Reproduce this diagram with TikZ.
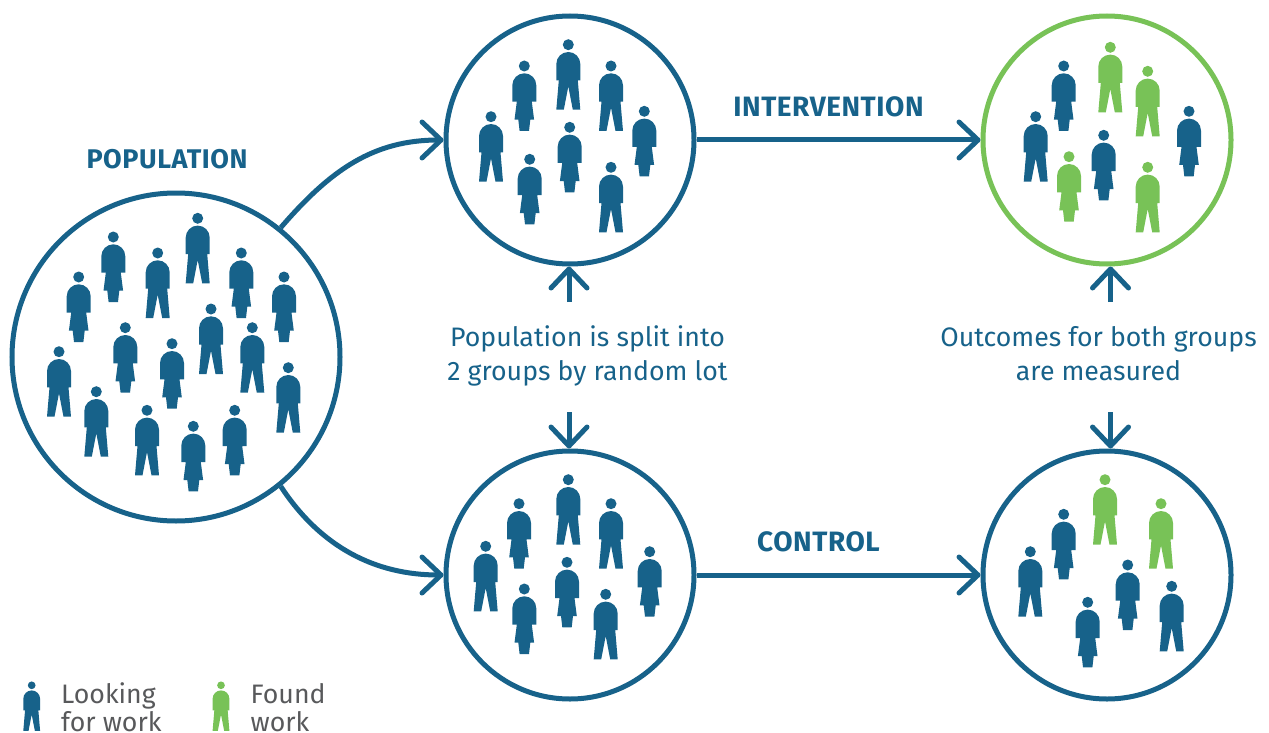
\documentclass[tikz,border=0pt]{standalone}
\usepackage{fontspec}
\usetikzlibrary{arrows.meta}
\setmainfont{Fira Sans}
\newfontfamily\armfont[LetterSpace=2]{Fira Sans}
\definecolor{lookblue}{HTML}{17628A}
\definecolor{foundgreen}{HTML}{78C257}
\definecolor{legendgrey}{HTML}{58595B}
\tikzset{
  man/.pic={\fill (0,0) circle (5.5);
    \fill (-12,19.3) arc (180:360:12) -- (12,35.7) -- (9.5,35.7) -- (12,65) -- (4.5,65) -- (0,41.7) -- (-4.5,65) -- (-12,65) -- (-9.5,35.7) -- (-12,35.7) -- cycle;},
  woman/.pic={\fill (0,0) circle (5.5);
    \fill (-12,19.3) arc (180:360:12) -- (12,35.7) -- (7.5,35.7) -- (9.8,53.7) -- (6,53.7) -- (4.7,65) -- (-4.7,65) -- (-6,53.7) -- (-9.8,53.7) -- (-7.5,35.7) -- (-12,35.7) -- cycle;},
  group/.style={circle,draw=lookblue,line width=5pt,inner sep=0pt,outer sep=2.5pt},
  link/.style={draw=lookblue,line width=5pt,-{Straight Barb[length=19pt,width=36pt,line width=5pt,round]}},
  armname/.style={text=lookblue,inner sep=0pt,font=\armfont\fontsize{28}{32}\bfseries\selectfont},
  note/.style={text=lookblue,inner sep=0pt,align=center,font=\fontsize{26.7}{34}\selectfont},
  legend/.style={text=legendgrey,inner sep=0pt,align=left,anchor=base west,font=\fontsize{26.7}{28}\selectfont}
}
\begin{document}
\begin{tikzpicture}[x=1pt,y=-1pt]
\useasboundingbox (0,0) rectangle (1269,733);
\node[group,minimum size=328pt] (population) at (176,357) {};
\node[group,minimum size=248pt] (splitA) at (570,140) {};
\node[group,minimum size=248pt] (splitB) at (570,575) {};
\node[group,draw=foundgreen,minimum size=248pt] (resultA) at (1107,140) {};
\node[group,minimum size=248pt] (resultB) at (1107,575) {};
\node[armname,font=\armfont\fontsize{27}{32}\bfseries\selectfont] (poplabel) at (167,159) {POPULATION};
\node[armname] (intervention) at (828.5,107) {INTERVENTION};
\node[armname] (control) at (818.5,542) {CONTROL};
\node[note] (splitnote) at (587.5,356) {Population is split into\\2 groups by random lot};
\node[note] (measurenote) at (1098.5,354) {Outcomes for both groups\\are measured};
\node[legend] (looking) at (61,731) {Looking\\for work};
\node[legend] (found) at (250.5,731) {Found\\work};
\coordinate (splitup) at (569,302);
\coordinate (splitdown) at (569,412);
\coordinate (measureup) at (1110.5,302);
\coordinate (measuredown) at (1110.5,412);
\draw[link] (population.51) .. controls +(50,-58) and +(-70,0) .. (splitA.west);
\draw[link] (population.-51) .. controls +(40,61) and +(-68,0) .. (splitB.west);
\draw[link] (splitA.east) -- (resultA.west);
\draw[link] (splitB.east) -- (resultB.west);
\draw[link] (splitup) -- (splitup |- splitA.south);
\draw[link] (splitdown) -- (splitdown |- splitB.north);
\draw[link] (measureup) -- (measureup |- resultA.south);
\draw[link] (measuredown) -- (measuredown |- resultB.north);
% population
\path[lookblue] (197.7,218.3) pic {man} (157.7,253) pic {man} (211,309) pic {man} (252.3,327.7) pic {man} (288.3,367.7) pic {man} (59,351.7) pic {man} (96.3,391.7) pic {man} (147,410.3) pic {man};
\path[lookblue] (113.3,237) pic {woman} (241.3,253) pic {woman} (284,277) pic {woman} (78.7,277) pic {woman} (125.3,327.7) pic {woman} (172,343.7) pic {woman} (193.3,426.3) pic {woman} (234.7,410.3) pic {woman};
% split groups
\path[lookblue] (568.3,44.7) pic {man} (611,66) pic {man} (491,116.7) pic {man} (611,167.3) pic {man};
\path[lookblue] (524.3,66) pic {woman} (644.3,111.3) pic {woman} (569.7,127.3) pic {woman} (529.7,159.3) pic {woman};
\path[lookblue] (568.3,479.7) pic {man} (611,503.7) pic {man} (485.7,546.3) pic {man} (605.7,594.3) pic {man};
\path[lookblue] (519,503.7) pic {woman} (649.7,551.7) pic {woman} (567,562.3) pic {woman} (524.3,589) pic {woman};
% results
\path[foundgreen] (1110.3,47.3) pic {man} (1147.7,71.3) pic {man} (1147.7,167.3) pic {man} (1069,156.7) pic {woman};
\path[lookblue] (1035.7,116.7) pic {man} (1063.7,66) pic {woman} (1189,111.3) pic {woman} (1103.7,135.3) pic {woman};
\path[foundgreen] (1105,479.7) pic {man} (1161,503.7) pic {man};
\path[lookblue] (1030.3,551.7) pic {man} (1171.7,586.3) pic {man} (1063.7,514.3) pic {woman} (1127.7,565) pic {woman} (1087.7,602.3) pic {woman};
% legend
\path[lookblue] (31.7,685.3) pic[scale=.7] {man};
\path[foundgreen] (221,685.3) pic[scale=.7] {man};
\end{tikzpicture}
\end{document}
